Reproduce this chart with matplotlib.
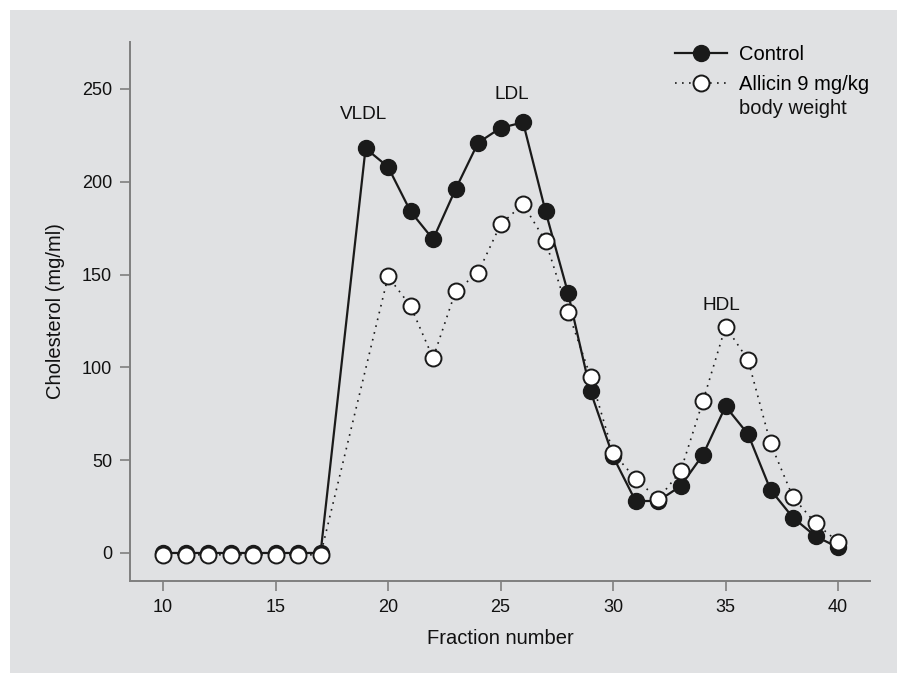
import matplotlib
matplotlib.use("Agg")
import matplotlib.pyplot as plt
from matplotlib.lines import Line2D
from matplotlib.patches import Rectangle

plt.rcParams['font.family'] = ['Liberation Sans', 'DejaVu Sans']

# Data
control_x = [10, 11, 12, 13, 14, 15, 16, 17, 19, 20, 21, 22, 23, 24, 25, 26, 27, 28, 29,
             30, 31, 32, 33, 34, 35, 36, 37, 38, 39, 40]
control_y = [0, 0, 0, 0, 0, 0, 0, 0, 218, 208, 184, 169, 196, 221, 229, 232, 184, 140, 87,
             52, 28, 28, 36, 53, 79, 64, 34, 19, 9, 3]
allicin_x = [10, 11, 12, 13, 14, 15, 16, 17, 20, 21, 22, 23, 24, 25, 26, 27, 28, 29,
             30, 31, 32, 33, 34, 35, 36, 37, 38, 39, 40]
allicin_y = [-1, -1, -1, -1, -1, -1, -1, -1, 149, 133, 105, 141, 151, 177, 188, 168, 130, 95,
             54, 40, 29, 44, 82, 122, 104, 59, 30, 16, 6]
x_ticks = [10, 15, 20, 25, 30, 35, 40]
y_ticks = [0, 50, 100, 150, 200, 250]
annotations = [("VLDL", 18.93, 234), ("LDL", 25.5, 244.5), ("HDL", 34.8, 131)]

W, H = 897, 673
fig = plt.figure(figsize=(W / 100, H / 100), dpi=100, facecolor='white')
bg = '#e0e1e3'
fig.patches.append(Rectangle((10 / W, 0), 1 - 10 / W, 1 - 10 / H, transform=fig.transFigure,
                             facecolor=bg, edgecolor='none', zorder=-10))

ax = fig.add_axes([130 / W, (H - 581) / H, (870 - 130) / W, (581 - 42) / H])
ax.set_facecolor('none')

ink = '#1a1a1a'
ms = 11.5
dot = (0, (1, 3.2))
ax.plot(control_x, control_y, color=ink, lw=1.6, marker='o', ms=ms,
        mfc=ink, mec=ink, zorder=2)
ax.plot(allicin_x, allicin_y, color=ink, lw=1.2, ls=dot, marker='o', ms=ms,
        mfc='white', mec=ink, mew=1.4, zorder=3)

for txt, xv, yv in annotations:
    ax.text(xv, yv, txt, ha='center', va='baseline', fontsize=13.7, color='#111111')

ax.set_xlim(8.53, 41.42)
ax.set_ylim(-15.1, 275.3)
ax.set_xticks(x_ticks)
ax.set_yticks(y_ticks)
ax.tick_params(direction='out', length=7, width=1.2, color='#7f7f7f',
               labelsize=13, labelcolor='#111111', pad=6)
for s in ['top', 'right']:
    ax.spines[s].set_visible(False)
for s in ['left', 'bottom']:
    ax.spines[s].set_color('#7f7f7f')
    ax.spines[s].set_linewidth(1.4)

ax.set_xlabel('Fraction number', fontsize=14.5, color='#111111', labelpad=9)
ax.set_ylabel('Cholesterol (mg/ml)', fontsize=14.5, color='#111111', labelpad=12)

handles = [
    Line2D([], [], color=ink, lw=1.6, marker='o', ms=ms, mfc=ink, mec=ink),
    Line2D([], [], color=ink, lw=1.2, ls=dot, marker='o', ms=ms, mfc='white',
           mec=ink, mew=1.4),
]
labels = ['Control', 'Allicin 9 mg/kg']
leg = ax.legend(handles, labels, loc='upper left', bbox_to_anchor=(0.7257, 1.0086),
                frameon=False, fontsize=14.5, handlelength=2.6, handletextpad=0.55,
                labelspacing=0.55, borderaxespad=0)
ax.annotate('body weight', xy=(0, 0), xycoords=leg.get_texts()[1],
            xytext=(0, -24), textcoords='offset pixels', ha='left', va='bottom',
            fontsize=14.5, color='#111111', zorder=10, annotation_clip=False)

fig.savefig('out.png', dpi=100, facecolor='white')
